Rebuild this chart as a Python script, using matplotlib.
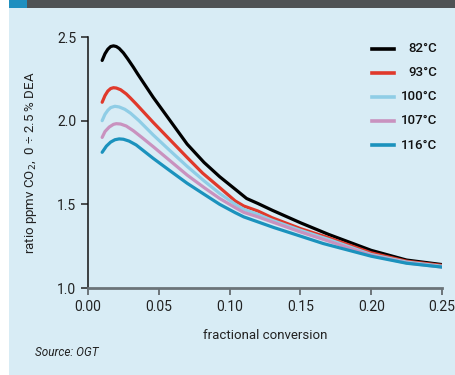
import matplotlib
matplotlib.use("Agg")
import matplotlib.pyplot as plt
from matplotlib.lines import Line2D
from matplotlib.patches import Rectangle

plt.rcParams['font.family'] = ['Roboto', 'DejaVu Sans']

# curve data
x_82 = [0.010, 0.012, 0.014, 0.016, 0.018, 0.020, 0.022, 0.025, 0.028, 0.032,
        0.035, 0.046, 0.058, 0.070, 0.082, 0.093, 0.104, 0.112, 0.120, 0.130,
        0.150, 0.170, 0.200, 0.225, 0.250]
y_82 = [2.36, 2.40, 2.427, 2.443, 2.447, 2.443, 2.432, 2.405, 2.37, 2.32,
        2.28, 2.14, 2.00, 1.86, 1.75, 1.665, 1.59, 1.535, 1.505, 1.465,
        1.39, 1.32, 1.225, 1.167, 1.14]

x_93 = [0.010, 0.012, 0.014, 0.016, 0.018, 0.020, 0.023, 0.027, 0.030, 0.034,
        0.046, 0.058, 0.070, 0.081, 0.093, 0.104, 0.110, 0.120, 0.130, 0.150,
        0.170, 0.200, 0.225, 0.250]
y_93 = [2.11, 2.15, 2.177, 2.192, 2.197, 2.195, 2.185, 2.16, 2.135, 2.10,
        1.99, 1.885, 1.78, 1.686, 1.60, 1.52, 1.49, 1.46, 1.42, 1.355,
        1.30, 1.21, 1.16, 1.135]

x_100 = [0.010, 0.012, 0.014, 0.016, 0.019, 0.022, 0.026, 0.030, 0.036, 0.046,
         0.058, 0.070, 0.082, 0.093, 0.104, 0.110, 0.120, 0.130, 0.150, 0.170,
         0.200, 0.225, 0.250]
y_100 = [2.00, 2.038, 2.062, 2.078, 2.086, 2.082, 2.068, 2.045, 2.00, 1.915,
         1.82, 1.727, 1.64, 1.565, 1.50, 1.47, 1.44, 1.405, 1.345, 1.29,
         1.20, 1.155, 1.13]

x_107 = [0.010, 0.012, 0.015, 0.018, 0.020, 0.023, 0.027, 0.032, 0.038, 0.046,
         0.058, 0.070, 0.082, 0.093, 0.104, 0.110, 0.120, 0.130, 0.150, 0.170,
         0.200, 0.225, 0.250]
y_107 = [1.90, 1.935, 1.962, 1.978, 1.982, 1.980, 1.968, 1.94, 1.90, 1.845,
         1.76, 1.675, 1.60, 1.535, 1.48, 1.452, 1.425, 1.395, 1.335, 1.28,
         1.195, 1.15, 1.125]

x_116 = [0.010, 0.013, 0.016, 0.019, 0.022, 0.025, 0.029, 0.034, 0.040, 0.046,
         0.058, 0.070, 0.082, 0.093, 0.104, 0.110, 0.120, 0.131, 0.150, 0.166,
         0.200, 0.225, 0.250]
y_116 = [1.811, 1.848, 1.872, 1.886, 1.891, 1.889, 1.878, 1.855, 1.815, 1.775,
         1.70, 1.626, 1.56, 1.50, 1.45, 1.425, 1.395, 1.362, 1.31, 1.266,
         1.19, 1.148, 1.125]

labels = ['82°C', '93°C', '100°C', '107°C', '116°C']
colors = ['#000000', '#e0392b', '#8fcde6', '#c992bf', '#1b92bd']
series = [(x_82, y_82), (x_93, y_93), (x_100, y_100), (x_107, y_107), (x_116, y_116)]

bg = '#d8ecf5'
fig = plt.figure(figsize=(4.56, 3.75), dpi=100)
fig.patch.set_facecolor('white')

# panel background and header strip
fig.patches.append(Rectangle((9/456, 0), 1 - 9/456, 1 - 8/375, transform=fig.transFigure,
                             facecolor=bg, edgecolor='none', zorder=-5))
fig.patches.append(Rectangle((27/456, 1 - 8/375), 1, 8/375, transform=fig.transFigure,
                             facecolor='#4f5355', edgecolor='none', zorder=-5))
fig.patches.append(Rectangle((9/456, 1 - 8/375), 18/456, 8/375, transform=fig.transFigure,
                             facecolor='#1f8fbf', edgecolor='none', zorder=-5))

ax = fig.add_axes([88/456, 1 - 288/375, 354/456, 251/375])
ax.set_facecolor('none')
ax.set_zorder(2)

for (xs, ys), c in zip(series, colors):
    ax.plot(xs, ys, color=c, lw=2.3, solid_capstyle='round', solid_joinstyle='round')

ax.set_xlim(0, 0.25)
ax.set_ylim(1.0, 2.5)
ax.set_xticks([0, 0.05, 0.10, 0.15, 0.20, 0.25])
ax.set_xticklabels(['0.00', '0.05', '0.10', '0.15', '0.20', '0.25'])
ax.set_yticks([1.0, 1.5, 2.0, 2.5])
ax.set_yticklabels(['1.0', '1.5', '2.0', '2.5'])
ax.tick_params(labelsize=10, colors='#222222', length=5, width=1.1)
ax.tick_params(axis='x', colors='#4f5458', labelcolor='#222222')
for s in ['top', 'right']:
    ax.spines[s].set_visible(False)
ax.spines['left'].set_color('#111111')
ax.spines['left'].set_linewidth(1.1)
ax.spines['bottom'].set_color('#6b7378')
ax.spines['bottom'].set_linewidth(2)

ax.set_xlabel('fractional conversion', fontsize=9.5, color='#222222', labelpad=11)
ax.set_ylabel('ratio ppmv CO$_2$,  0 ÷ 2.5 % DEA', fontsize=9.5, color='#222222', labelpad=13)

# legend
for i, (lab, c) in enumerate(zip(labels, colors)):
    yy = 1 - (49 + i * 24) / 375
    fig.add_artist(Line2D([372/456, 394/456], [yy, yy], color=c, lw=2.6,
                          transform=fig.transFigure))
    fig.text(437/456, yy, lab, ha='right', va='center', fontsize=9.5,
             fontweight='medium', color='#111111')

fig.text(35/456, 1 - 352/375, 'Source: OGT', fontsize=8.5, style='italic',
         color='#222222', va='center')

fig.savefig('out.png', dpi=100)
